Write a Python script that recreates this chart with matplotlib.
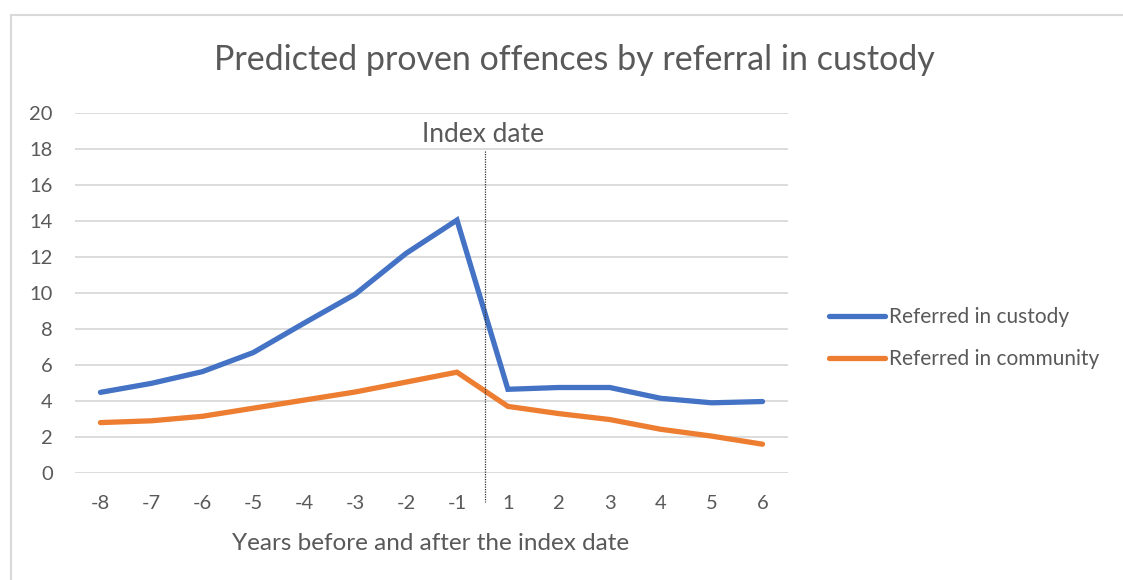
import matplotlib
matplotlib.use('Agg')
from matplotlib import pyplot as plt
from matplotlib.patches import Rectangle

# Data
years = ['-8', '-7', '-6', '-5', '-4', '-3', '-2', '-1', '1', '2', '3', '4', '5', '6']
custody = [4.48, 4.98, 5.63, 6.69, 8.33, 9.93, 12.2, 14.05, 4.65, 4.75, 4.75, 4.15, 3.9, 3.97]
community = [2.8, 2.9, 3.15, 3.6, 4.05, 4.5, 5.05, 5.6, 3.7, 3.3, 2.97, 2.43, 2.05, 1.6]
index_pos = 7.55

grey = '#595959'
plt.rcParams['font.family'] = ['Lato', 'DejaVu Sans']

W, H = 1123, 580
fig = plt.figure(figsize=(W / 100, H / 100), dpi=100)
ax = fig.add_axes([75 / W, 1 - 473 / H, (788 - 75) / W, (473 - 113) / H])

# chart frame
fig.patches.append(Rectangle((11 / W, -0.01), 1.2, 1 - 15 / H + 0.01,
                             transform=fig.transFigure, fill=False,
                             edgecolor='#d9d9d9', linewidth=1.5))

x = range(len(years))
ax.plot(x, custody, color='#4472C4', linewidth=3.8, label='Referred in custody',
        solid_capstyle='round', solid_joinstyle='miter')
ax.plot(x, community, color='#ED7D31', linewidth=3.8, label='Referred in community',
        solid_capstyle='round', solid_joinstyle='miter')

ax.set_xlim(-0.5, len(years) - 0.5)
ax.set_ylim(0, 20)
ax.set_yticks(range(0, 21, 2))
ax.set_xticks(list(x))
ax.set_xticklabels(years)
ax.grid(axis='y', color='#d9d9d9', linewidth=1.3)
ax.set_axisbelow(True)
for s in ax.spines.values():
    s.set_visible(False)
ax.tick_params(axis='both', length=0, labelsize=14.5, labelcolor=grey)
ax.tick_params(axis='x', pad=16)
ax.tick_params(axis='y', pad=16)

# index date marker
ax.plot([index_pos, index_pos], [17.9, -1.6], color='#333333', linewidth=0.9,
        linestyle=(0, (1, 1)), clip_on=False)
ax.text(index_pos - 0.03, 18.8, 'Index date', ha='center', va='center',
        fontsize=19, color=grey)

fig.text(574 / W, 1 - 60 / H, 'Predicted proven offences by referral in custody',
         ha='center', va='center', fontsize=24.5, color=grey)
fig.text(431 / W, 1 - 543 / H, 'Years before and after the index date',
         ha='center', va='center', fontsize=17.5, color=grey)

fig.legend(loc='center left', bbox_to_anchor=(810 / W, 1 - 338 / H), frameon=False,
           fontsize=15, labelcolor=grey, handlelength=2.7, handletextpad=0.2,
           labelspacing=1.05, borderpad=0.4)

fig.savefig('out.png', dpi=100)
